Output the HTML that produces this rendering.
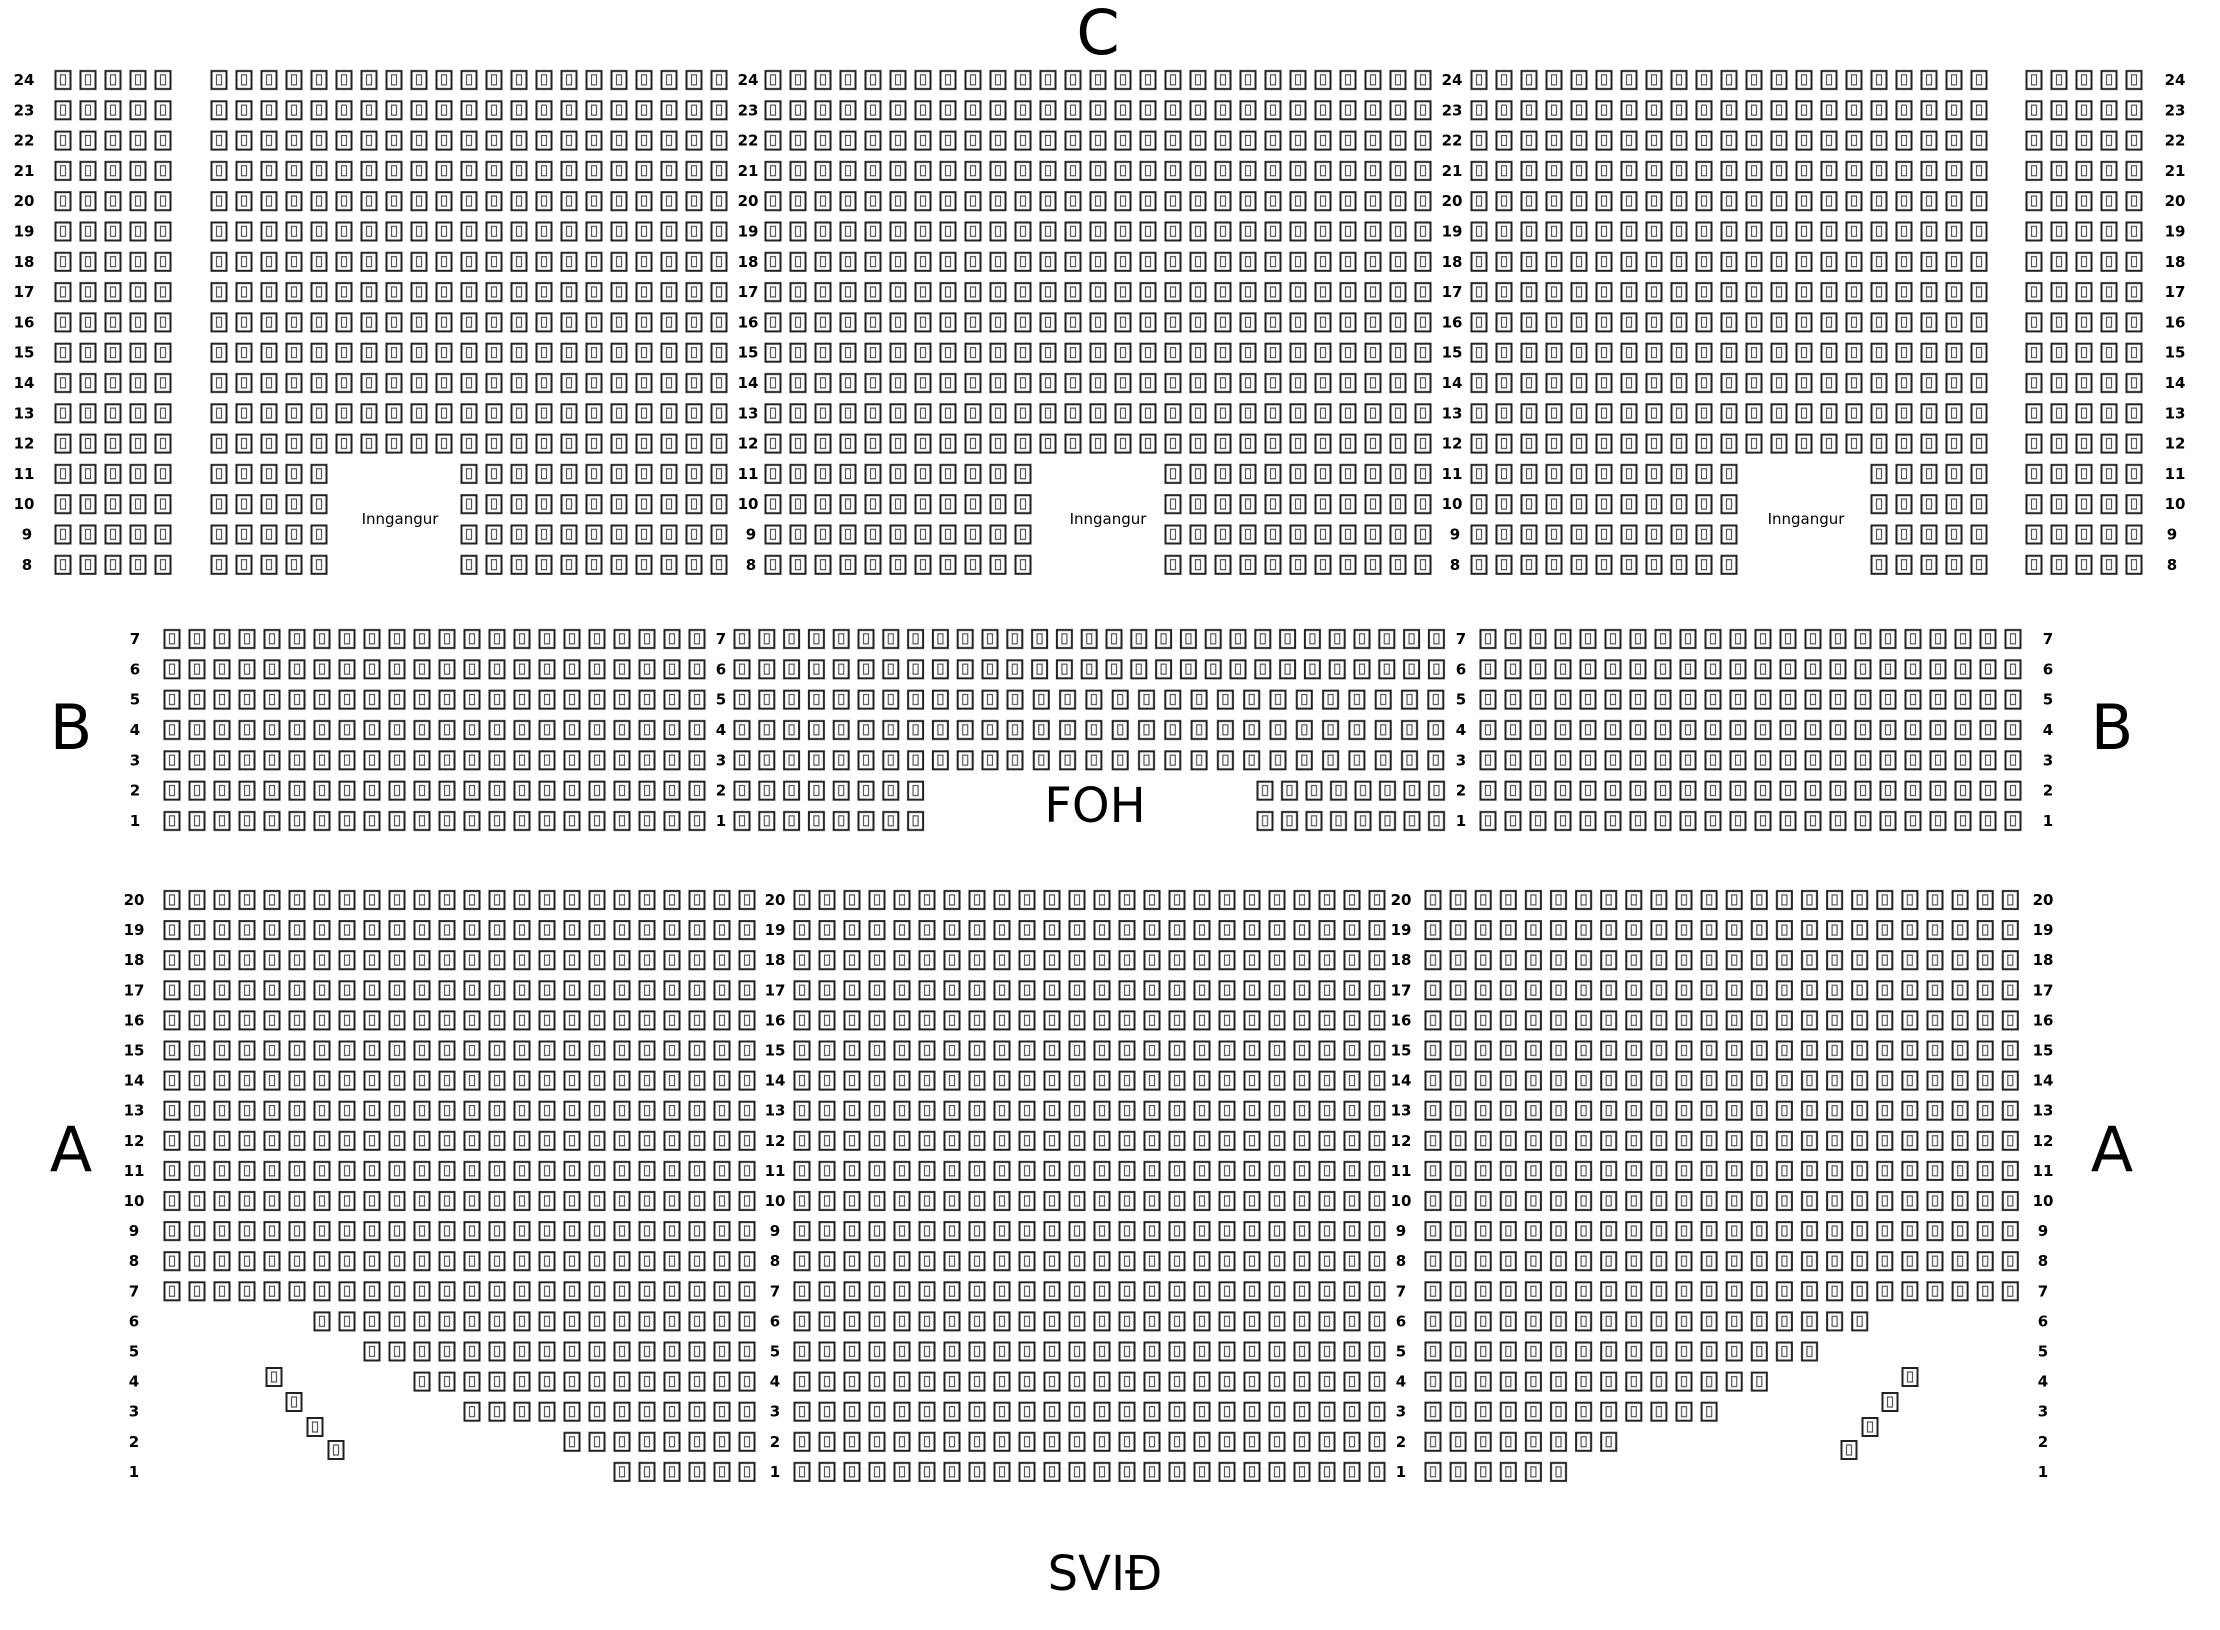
<!DOCTYPE html>
<html><head><meta charset="utf-8"><style>
html,body{margin:0;padding:0;background:#fff}
svg{display:block}
.l{font-family:"DejaVu Sans","Liberation Sans",sans-serif;font-weight:bold;font-size:15px;text-anchor:middle;fill:#000}
.i{font-family:"DejaVu Sans","Liberation Sans",sans-serif;font-size:15px;text-anchor:middle;fill:#000}
.b{font-family:"DejaVu Sans","Liberation Sans",sans-serif;font-size:62px;text-anchor:middle;fill:#000}
.f{font-family:"DejaVu Sans","Liberation Sans",sans-serif;font-size:48px;text-anchor:middle;fill:#000}
</style></head><body>
<svg xmlns="http://www.w3.org/2000/svg" width="2220" height="1630" viewBox="0 0 2220 1630">
<defs>
<pattern id="pC" width="25" height="30.3" patternUnits="userSpaceOnUse"><rect x="5" y="6.15" width="15" height="18" fill="#fff" stroke="#222" stroke-width="2"/><rect x="10" y="10" width="5" height="10" fill="none" stroke="#555" stroke-width="1.2"/></pattern>
<pattern id="pB1" width="25" height="30.33" patternUnits="userSpaceOnUse"><rect x="5" y="6.16" width="15" height="18" fill="#fff" stroke="#222" stroke-width="2"/><rect x="10" y="10" width="5" height="10" fill="none" stroke="#555" stroke-width="1.2"/></pattern>
<pattern id="pB" width="24.8" height="30.33" patternUnits="userSpaceOnUse"><rect x="4.9" y="6.16" width="15" height="18" fill="#fff" stroke="#222" stroke-width="2"/><rect x="9.9" y="10" width="5" height="10" fill="none" stroke="#555" stroke-width="1.2"/></pattern>
<pattern id="pB2" width="26.3" height="30.33" patternUnits="userSpaceOnUse"><rect x="5.65" y="6.16" width="15" height="18" fill="#fff" stroke="#222" stroke-width="2"/><rect x="10.65" y="10" width="5" height="10" fill="none" stroke="#555" stroke-width="1.2"/></pattern>
<pattern id="pB3" width="24.5" height="30.33" patternUnits="userSpaceOnUse"><rect x="4.75" y="6.16" width="15" height="18" fill="#fff" stroke="#222" stroke-width="2"/><rect x="9.75" y="10" width="5" height="10" fill="none" stroke="#555" stroke-width="1.2"/></pattern>
<pattern id="pA" width="25" height="30.1" patternUnits="userSpaceOnUse"><rect x="5" y="6.05" width="15" height="18" fill="#fff" stroke="#222" stroke-width="2"/><rect x="10" y="10" width="5" height="10" fill="none" stroke="#555" stroke-width="1.2"/></pattern>
<pattern id="pA2" width="25.1" height="30.1" patternUnits="userSpaceOnUse"><rect x="5.05" y="6.05" width="15" height="18" fill="#fff" stroke="#222" stroke-width="2"/><rect x="10.05" y="10" width="5" height="10" fill="none" stroke="#555" stroke-width="1.2"/></pattern>
</defs>

<g fill="url(#pC)">
<rect transform="translate(50.5,64.85)" width="125" height="515.1"/>
<rect transform="translate(206.5,64.85)" width="125" height="515.1"/>
<rect transform="translate(331.5,64.85)" width="125" height="393.9"/>
<rect transform="translate(456.5,64.85)" width="275" height="515.1"/>
<rect transform="translate(760.5,64.85)" width="275" height="515.1"/>
<rect transform="translate(1035.5,64.85)" width="125" height="393.9"/>
<rect transform="translate(1160.5,64.85)" width="275" height="515.1"/>
<rect transform="translate(1466.5,64.85)" width="275" height="515.1"/>
<rect transform="translate(1741.5,64.85)" width="125" height="393.9"/>
<rect transform="translate(1866.5,64.85)" width="125" height="515.1"/>
<rect transform="translate(2021.5,64.85)" width="125" height="515.1"/>
</g>

<rect transform="translate(159.5,623.84)" width="550" height="212.3" fill="url(#pB1)"/>
<rect transform="translate(729.6,623.84)" width="719.2" height="60.66" fill="url(#pB)"/>
<rect transform="translate(729.6,684.5)" width="272.8" height="91" fill="url(#pB)"/>
<rect transform="translate(1001.85,684.5)" width="447.1" height="91" fill="url(#pB2)"/>
<rect transform="translate(729.6,775.5)" width="198.4" height="60.66" fill="url(#pB)"/>
<rect transform="translate(1252.75,775.5)" width="196" height="60.66" fill="url(#pB3)"/>
<rect transform="translate(1475.5,623.84)" width="550" height="212.3" fill="url(#pB1)"/>

<g fill="url(#pA)">
<rect transform="translate(159.5,884.95)" width="600" height="421.4"/>
<rect transform="translate(309.5,1306.35)" width="450" height="30.1"/>
<rect transform="translate(359.5,1336.45)" width="400" height="30.1"/>
<rect transform="translate(409.5,1366.55)" width="350" height="30.1"/>
<rect transform="translate(459.5,1396.65)" width="300" height="30.1"/>
<rect transform="translate(559.5,1426.75)" width="200" height="30.1"/>
<rect transform="translate(609.5,1456.85)" width="150" height="30.1"/>
<rect transform="translate(789.5,884.95)" width="600" height="602"/>
</g>
<g fill="url(#pA2)">
<rect transform="translate(1420.45,884.95)" width="602.4" height="421.4"/>
<rect transform="translate(1420.45,1306.35)" width="451.8" height="30.1"/>
<rect transform="translate(1420.45,1336.45)" width="401.6" height="30.1"/>
<rect transform="translate(1420.45,1366.55)" width="351.4" height="30.1"/>
<rect transform="translate(1420.45,1396.65)" width="301.2" height="30.1"/>
<rect transform="translate(1420.45,1426.75)" width="200.8" height="30.1"/>
<rect transform="translate(1420.45,1456.85)" width="150.6" height="30.1"/>
</g>
<g fill="#fff" stroke="#222" stroke-width="2">
<rect x="266.5" y="1368" width="15" height="18"/>
<rect x="286.5" y="1393" width="15" height="18"/>
<rect x="307.5" y="1418" width="15" height="18"/>
<rect x="328.5" y="1441" width="15" height="18"/>
<rect x="1902.5" y="1368" width="15" height="18"/>
<rect x="1882.5" y="1393" width="15" height="18"/>
<rect x="1862.5" y="1418" width="15" height="18"/>
<rect x="1841.5" y="1441" width="15" height="18"/>
</g>
<g fill="none" stroke="#555" stroke-width="1.2">
<rect x="271.5" y="1372" width="5" height="10"/>
<rect x="291.5" y="1397" width="5" height="10"/>
<rect x="312.5" y="1422" width="5" height="10"/>
<rect x="333.5" y="1445" width="5" height="10"/>
<rect x="1907.5" y="1372" width="5" height="10"/>
<rect x="1887.5" y="1397" width="5" height="10"/>
<rect x="1867.5" y="1422" width="5" height="10"/>
<rect x="1846.5" y="1445" width="5" height="10"/>
</g>

<g class="l">
<text x="24" y="85">24</text><text x="748" y="85">24</text><text x="1452" y="85">24</text><text x="2175" y="85">24</text>
<text x="24" y="115.3">23</text><text x="748" y="115.3">23</text><text x="1452" y="115.3">23</text><text x="2175" y="115.3">23</text>
<text x="24" y="145.6">22</text><text x="748" y="145.6">22</text><text x="1452" y="145.6">22</text><text x="2175" y="145.6">22</text>
<text x="24" y="175.9">21</text><text x="748" y="175.9">21</text><text x="1452" y="175.9">21</text><text x="2175" y="175.9">21</text>
<text x="24" y="206.2">20</text><text x="748" y="206.2">20</text><text x="1452" y="206.2">20</text><text x="2175" y="206.2">20</text>
<text x="24" y="236.5">19</text><text x="748" y="236.5">19</text><text x="1452" y="236.5">19</text><text x="2175" y="236.5">19</text>
<text x="24" y="266.8">18</text><text x="748" y="266.8">18</text><text x="1452" y="266.8">18</text><text x="2175" y="266.8">18</text>
<text x="24" y="297.1">17</text><text x="748" y="297.1">17</text><text x="1452" y="297.1">17</text><text x="2175" y="297.1">17</text>
<text x="24" y="327.4">16</text><text x="748" y="327.4">16</text><text x="1452" y="327.4">16</text><text x="2175" y="327.4">16</text>
<text x="24" y="357.7">15</text><text x="748" y="357.7">15</text><text x="1452" y="357.7">15</text><text x="2175" y="357.7">15</text>
<text x="24" y="388">14</text><text x="748" y="388">14</text><text x="1452" y="388">14</text><text x="2175" y="388">14</text>
<text x="24" y="418.3">13</text><text x="748" y="418.3">13</text><text x="1452" y="418.3">13</text><text x="2175" y="418.3">13</text>
<text x="24" y="448.6">12</text><text x="748" y="448.6">12</text><text x="1452" y="448.6">12</text><text x="2175" y="448.6">12</text>
<text x="24" y="478.9">11</text><text x="748" y="478.9">11</text><text x="1452" y="478.9">11</text><text x="2175" y="478.9">11</text>
<text x="24" y="509.2">10</text><text x="748" y="509.2">10</text><text x="1452" y="509.2">10</text><text x="2175" y="509.2">10</text>
<text x="27" y="539.5">9</text><text x="751" y="539.5">9</text><text x="1455" y="539.5">9</text><text x="2172" y="539.5">9</text>
<text x="27" y="569.8">8</text><text x="751" y="569.8">8</text><text x="1455" y="569.8">8</text><text x="2172" y="569.8">8</text>
</g>
<g class="i">
<text x="400" y="524">Inngangur</text><text x="1108" y="524">Inngangur</text><text x="1806" y="524">Inngangur</text>
</g>

<g class="l">
<text x="135" y="644">7</text><text x="721" y="644">7</text><text x="1461" y="644">7</text><text x="2048" y="644">7</text>
<text x="135" y="674.3">6</text><text x="721" y="674.3">6</text><text x="1461" y="674.3">6</text><text x="2048" y="674.3">6</text>
<text x="135" y="704.7">5</text><text x="721" y="704.7">5</text><text x="1461" y="704.7">5</text><text x="2048" y="704.7">5</text>
<text x="135" y="735">4</text><text x="721" y="735">4</text><text x="1461" y="735">4</text><text x="2048" y="735">4</text>
<text x="135" y="765.3">3</text><text x="721" y="765.3">3</text><text x="1461" y="765.3">3</text><text x="2048" y="765.3">3</text>
<text x="135" y="795.7">2</text><text x="721" y="795.7">2</text><text x="1461" y="795.7">2</text><text x="2048" y="795.7">2</text>
<text x="135" y="826">1</text><text x="721" y="826">1</text><text x="1461" y="826">1</text><text x="2048" y="826">1</text>
</g>

<g class="l">
<text x="134" y="905">20</text><text x="775" y="905">20</text><text x="1401" y="905">20</text><text x="2043" y="905">20</text>
<text x="134" y="935.1">19</text><text x="775" y="935.1">19</text><text x="1401" y="935.1">19</text><text x="2043" y="935.1">19</text>
<text x="134" y="965.2">18</text><text x="775" y="965.2">18</text><text x="1401" y="965.2">18</text><text x="2043" y="965.2">18</text>
<text x="134" y="995.3">17</text><text x="775" y="995.3">17</text><text x="1401" y="995.3">17</text><text x="2043" y="995.3">17</text>
<text x="134" y="1025.4">16</text><text x="775" y="1025.4">16</text><text x="1401" y="1025.4">16</text><text x="2043" y="1025.4">16</text>
<text x="134" y="1055.5">15</text><text x="775" y="1055.5">15</text><text x="1401" y="1055.5">15</text><text x="2043" y="1055.5">15</text>
<text x="134" y="1085.6">14</text><text x="775" y="1085.6">14</text><text x="1401" y="1085.6">14</text><text x="2043" y="1085.6">14</text>
<text x="134" y="1115.7">13</text><text x="775" y="1115.7">13</text><text x="1401" y="1115.7">13</text><text x="2043" y="1115.7">13</text>
<text x="134" y="1145.8">12</text><text x="775" y="1145.8">12</text><text x="1401" y="1145.8">12</text><text x="2043" y="1145.8">12</text>
<text x="134" y="1175.9">11</text><text x="775" y="1175.9">11</text><text x="1401" y="1175.9">11</text><text x="2043" y="1175.9">11</text>
<text x="134" y="1206">10</text><text x="775" y="1206">10</text><text x="1401" y="1206">10</text><text x="2043" y="1206">10</text>
<text x="134" y="1236.1">9</text><text x="775" y="1236.1">9</text><text x="1401" y="1236.1">9</text><text x="2043" y="1236.1">9</text>
<text x="134" y="1266.2">8</text><text x="775" y="1266.2">8</text><text x="1401" y="1266.2">8</text><text x="2043" y="1266.2">8</text>
<text x="134" y="1296.3">7</text><text x="775" y="1296.3">7</text><text x="1401" y="1296.3">7</text><text x="2043" y="1296.3">7</text>
<text x="134" y="1326.4">6</text><text x="775" y="1326.4">6</text><text x="1401" y="1326.4">6</text><text x="2043" y="1326.4">6</text>
<text x="134" y="1356.5">5</text><text x="775" y="1356.5">5</text><text x="1401" y="1356.5">5</text><text x="2043" y="1356.5">5</text>
<text x="134" y="1386.6">4</text><text x="775" y="1386.6">4</text><text x="1401" y="1386.6">4</text><text x="2043" y="1386.6">4</text>
<text x="134" y="1416.7">3</text><text x="775" y="1416.7">3</text><text x="1401" y="1416.7">3</text><text x="2043" y="1416.7">3</text>
<text x="134" y="1446.8">2</text><text x="775" y="1446.8">2</text><text x="1401" y="1446.8">2</text><text x="2043" y="1446.8">2</text>
<text x="134" y="1476.9">1</text><text x="775" y="1476.9">1</text><text x="1401" y="1476.9">1</text><text x="2043" y="1476.9">1</text>
</g>

<text class="b" x="1098" y="54">C</text>
<text class="b" x="71" y="749">B</text>
<text class="b" x="2112" y="749">B</text>
<text class="b" x="71" y="1171">A</text>
<text class="b" x="2112" y="1171">A</text>
<text class="f" x="1095" y="822">FOH</text>
<text class="f" x="1105" y="1590">SVIÐ</text>
</svg>
</body></html>
